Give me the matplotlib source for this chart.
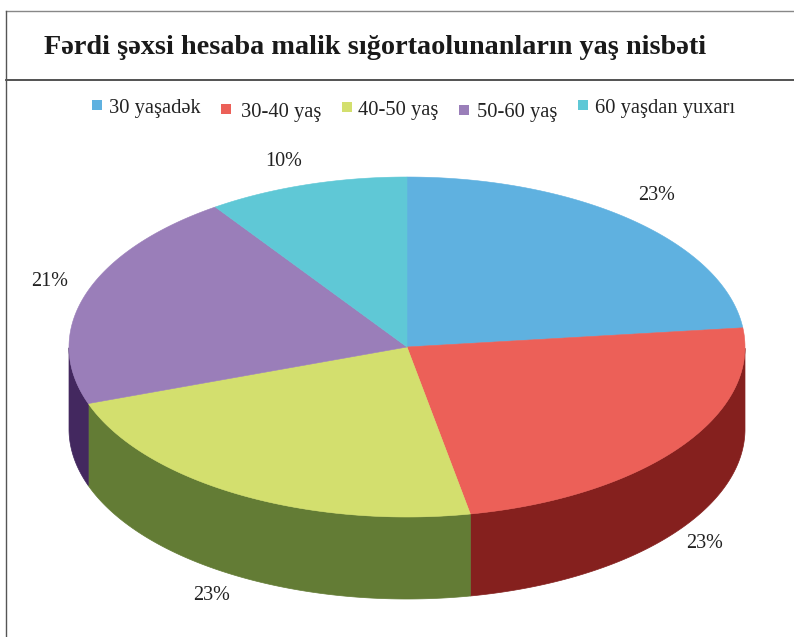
import numpy as np
import matplotlib
matplotlib.use("Agg")
import matplotlib.pyplot as plt
from matplotlib.patches import Polygon

title = "Fərdi şəxsi hesaba malik sığortaolunanların yaş nisbəti"
categories = ["30 yaşadək", "30-40 yaş", "40-50 yaş", "50-60 yaş", "60 yaşdan yuxarı"]
values = [23.2, 23.8, 22.6, 20.8, 9.6]
pct_labels = ["23%", "23%", "23%", "21%", "10%"]
top_colors = ["#5FB1E0", "#EC6058", "#D3DF6E", "#9A7EB9", "#5FC8D6"]
side_colors = ["#2F6F94", "#85201E", "#637C35", "#43285F", "#2F7F8C"]

plt.rcParams["font.family"] = ["Liberation Serif", "DejaVu Serif"]
W, H = 794, 637
fig = plt.figure(figsize=(W / 100, H / 100), dpi=100)
ax = fig.add_axes([0, 0, 1, 1])
ax.set_xlim(0, W)
ax.set_ylim(H, 0)
ax.axis("off")

cx, cy, rx, ry, depth = 407, 347, 338, 170, 82
edges = 90 - 360 * np.concatenate([[0], np.cumsum(values)]) / np.sum(values)

def pt(a):
    r = np.deg2rad(a)
    return cx + rx * np.cos(r), cy - ry * np.sin(r)

for i in range(len(values)):
    a0, a1 = edges[i], edges[i + 1]
    ts = np.linspace(a0, a1, 200)
    xs, ys = pt(ts)
    # visible outer wall: lower half of the ellipse only
    s = np.sin(np.deg2rad(ts))
    mask = s <= 0
    if mask.sum() > 1:
        wx, wy = xs[mask], ys[mask]
        wall = np.r_[np.c_[wx, wy], np.c_[wx[::-1], wy[::-1] + depth]]
        ax.add_patch(Polygon(wall, closed=True, fc=side_colors[i], ec=side_colors[i], lw=0.5, zorder=2))
for i in range(len(values)):
    ts = np.linspace(edges[i], edges[i + 1], 200)
    xs, ys = pt(ts)
    poly = np.r_[[[cx, cy]], np.c_[xs, ys]]
    ax.add_patch(Polygon(poly, closed=True, fc=top_colors[i], ec=top_colors[i], lw=0.4, zorder=3))

# title and frame
ax.text(44, 47, title, fontsize=20.35, fontweight="bold", color="#1a1a1a", va="center", ha="left")
ax.plot([5.5, W], [79.5, 79.5], color="#444444", lw=1.3)
ax.plot([5.5, W], [11, 11], color="#888888", lw=1.0)
ax.plot([5.5, 5.5], [11, H], color="#555555", lw=1.0)

# legend
leg_sq = [94, 223, 344, 461, 580]
leg_tx = [109, 241, 358, 477, 595]
leg_y = [105, 109, 107, 110, 105]
leg_text_y = [108, 112, 110, 112, 108]
for x, t, c, tx, y, ty in zip(leg_sq, categories, top_colors, leg_tx, leg_y, leg_text_y):
    ax.plot([x + 3], [y], marker="s", ms=6.8, color=c, mew=0)
    ax.text(tx, ty, t, fontsize=14.8, color="#222222", va="center", ha="left")

# value labels
lab_x = [657, 705, 212, 50, 284]
lab_y = [195, 543, 595, 282, 161]
for x, y, t in zip(lab_x, lab_y, pct_labels):
    ax.text(x, y, t, fontsize=14.5, color="#222222", va="center", ha="center")

fig.savefig("out.png", dpi=100)
